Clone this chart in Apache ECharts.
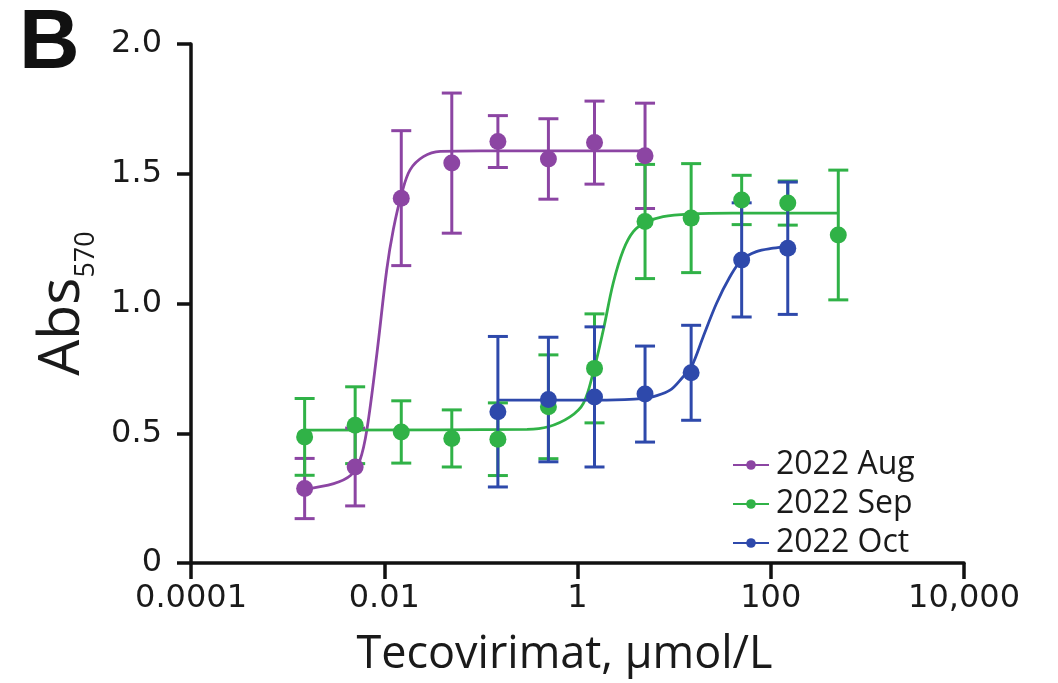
<!DOCTYPE html>
<html>
<head>
<meta charset="utf-8">
<script src="https://cdn.jsdelivr.net/npm/echarts@6/dist/echarts.min.js"></script>
<style>
  html, body { margin: 0; padding: 0; background: #fff; }
  #main { width: 1058px; height: 683px; }
</style>
</head>
<body>
<div id="main"></div>
<script>
// dose series (umol/L), half-log dilutions
var doses = [0.0015, 0.005, 0.015, 0.05, 0.15, 0.5, 1.5, 5, 15, 50, 150, 500];

// mean Abs570 and error per month
var augMean = [0.287, 0.37, 1.406, 1.541, 1.624, 1.557, 1.62, 1.569];
var augErr  = [0.116, 0.15, 0.26, 0.27, 0.10, 0.155, 0.16, 0.203];
var sepMean = [0.486, 0.531, 0.505, 0.48, 0.477, 0.602, 0.75, 1.316, 1.329, 1.399, 1.387, 1.264];
var sepErr  = [0.148, 0.148, 0.12, 0.11, 0.14, 0.2, 0.21, 0.22, 0.21, 0.095, 0.085, 0.25];
var octDoses = [0.15, 0.5, 1.5, 5, 15, 50, 150];
var octMean = [0.583, 0.63, 0.64, 0.651, 0.733, 1.168, 1.213];
var octErr  = [0.29, 0.24, 0.27, 0.185, 0.183, 0.22, 0.255];

// fitted curves, points
var augCurve = [[0.0015, 0.285], [0.003, 0.306], [0.0045, 0.338], [0.0056, 0.396], [0.0066, 0.512],
  [0.0084, 0.808], [0.0106, 1.129], [0.0124, 1.284], [0.0152, 1.425], [0.0185, 1.515],
  [0.0254, 1.566], [0.038, 1.586], [0.1, 1.588], [5, 1.588]];
var sepCurve = [[0.0015, 0.512], [0.3, 0.515], [0.5, 0.525], [0.836, 0.563], [1.15, 0.615],
  [1.456, 0.735], [1.85, 0.898], [2.34, 1.078], [2.98, 1.206], [3.78, 1.277], [5.05, 1.312],
  [7.7, 1.335], [15, 1.345], [40, 1.348], [500, 1.348]];
var octCurve = [[0.15, 0.628], [2, 0.628], [5, 0.634], [6.1, 0.641], [9.06, 0.666], [12.4, 0.718],
  [15.1, 0.756], [20, 0.872], [27.5, 1.001], [37.8, 1.103], [50, 1.168], [71, 1.2],
  [106, 1.213], [150, 1.22]];

var seriesNames = ['2022 Aug', '2022 Sep', '2022 Oct'];
var colors = ['#8c45a3', '#30b247', '#2e49ab'];

// axis labels
var xTickLabels = {'-4': '0.0001', '-2': '0.01', '0': '1', '2': '100', '4': '10,000'};
var yTickLabels = {'0': '0', '0.5': '0.5', '1': '1.0', '1.5': '1.5', '2': '2.0'};

function zip(xs, ys, es) {
  var out = [];
  for (var i = 0; i < ys.length; i++) {
    out.push(es ? [xs[i], ys[i], es[i]] : [xs[i], ys[i]]);
  }
  return out;
}

function errorBars(name, color, data) {
  return {
    name: name + ' err',
    type: 'custom',
    data: data,
    z: 3,
    encode: {x: 0, y: 1},
    renderItem: function (params, api) {
      var x = api.value(0), y = api.value(1), e = api.value(2);
      var hi = api.coord([x, y + e]);
      var lo = api.coord([x, y - e]);
      var w = 10;
      var st = {stroke: color, lineWidth: 3};
      return {
        type: 'group',
        children: [
          {type: 'line', shape: {x1: hi[0], y1: hi[1], x2: lo[0], y2: lo[1]}, style: st},
          {type: 'line', shape: {x1: hi[0] - w, y1: hi[1], x2: hi[0] + w, y2: hi[1]}, style: st},
          {type: 'line', shape: {x1: lo[0] - w, y1: lo[1], x2: lo[0] + w, y2: lo[1]}, style: st}
        ]
      };
    }
  };
}

function curve(name, color, data) {
  return {
    name: name,
    type: 'line',
    data: data,
    smooth: 0.35,
    showSymbol: false,
    symbol: 'circle',
    symbolSize: 10,
    z: 2,
    itemStyle: {color: color},
    lineStyle: {color: color, width: 2.8}
  };
}

function points(name, color, data) {
  return {
    name: name + ' pts',
    type: 'scatter',
    data: data,
    symbol: 'circle',
    symbolSize: 17,
    z: 4,
    itemStyle: {color: color, opacity: 1}
  };
}

var myChart = echarts.init(document.getElementById('main'));

var tickFont = 'DejaVu Sans';
var titleFont = 'Open Sans';

var option = {
  animation: false,
  backgroundColor: '#fff',
  grid: {left: 191, right: 94, top: 44, bottom: 120},
  graphic: [{
    type: 'text',
    left: 19,
    top: 3,
    style: {text: 'B', font: 'bold 84px "Liberation Sans"', fill: '#111'}
  }],
  legend: {
    orient: 'vertical',
    left: 727,
    top: 444,
    itemWidth: 36,
    itemHeight: 12,
    itemGap: 7,
    data: seriesNames,
    textStyle: {fontFamily: titleFont, fontSize: 32, color: '#1a1a1a', lineHeight: 31, padding: [0, 0, 0, 2]}
  },
  xAxis: {
    type: 'log',
    logBase: 10,
    min: 0.0001,
    max: 10000,
    interval: 2,
    name: 'Tecovirimat, µmol/L',
    nameLocation: 'middle',
    nameGap: 70,
    nameTextStyle: {fontFamily: titleFont, fontSize: 45, color: '#1a1a1a', padding: [0, 26, 0, 0]},
    axisLine: {lineStyle: {color: '#111', width: 3.5}},
    axisTick: {length: 16, lineStyle: {color: '#111', width: 3.5}},
    axisLabel: {
      fontFamily: tickFont, fontSize: 32, color: '#1a1a1a', margin: 20,
      formatter: function (v) {
        var k = Math.round(Math.log(v) / Math.LN10);
        return xTickLabels[String(k)] || '';
      }
    },
    splitLine: {show: false},
    minorTick: {show: false}
  },
  yAxis: {
    type: 'value',
    min: 0,
    max: 2,
    interval: 0.5,
    name: 'Abs{sub|570}',
    nameLocation: 'middle',
    nameGap: 160,
    nameRotate: 90,
    nameTextStyle: {
      fontFamily: titleFont, fontSize: 57, color: '#1a1a1a', verticalAlign: 'top',
      rich: {
        sub: {fontFamily: titleFont, fontSize: 27, color: '#1a1a1a', padding: [47, 0, 0, 0], verticalAlign: 'top'}
      }
    },
    axisLine: {show: true, lineStyle: {color: '#111', width: 3.5}},
    axisTick: {show: true, length: 14, lineStyle: {color: '#111', width: 3.5}},
    axisLabel: {
      fontFamily: tickFont, fontSize: 32, color: '#1a1a1a', margin: 29,
      formatter: function (v) { return yTickLabels[String(v)]; }
    },
    splitLine: {show: false}
  },
  series: [
    curve(seriesNames[0], colors[0], augCurve),
    curve(seriesNames[1], colors[1], sepCurve),
    curve(seriesNames[2], colors[2], octCurve),
    errorBars(seriesNames[0], colors[0], zip(doses, augMean, augErr)),
    errorBars(seriesNames[1], colors[1], zip(doses, sepMean, sepErr)),
    errorBars(seriesNames[2], colors[2], zip(octDoses, octMean, octErr)),
    points(seriesNames[0], colors[0], zip(doses, augMean)),
    points(seriesNames[1], colors[1], zip(doses, sepMean)),
    points(seriesNames[2], colors[2], zip(octDoses, octMean))
  ]
};

myChart.setOption(option);
</script>
</body>
</html>
